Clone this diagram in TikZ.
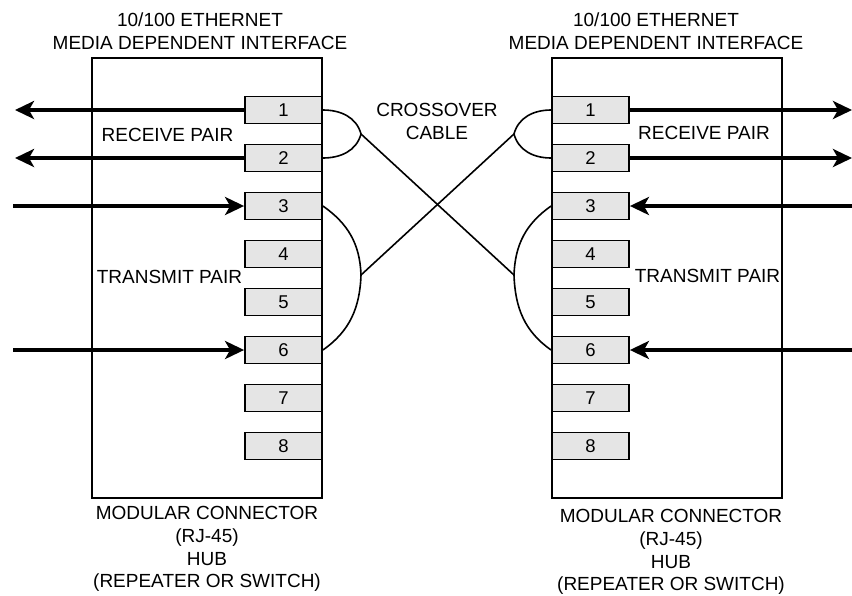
\documentclass[tikz,border=0pt]{standalone}
\usepackage{fontspec}
\setmainfont{Liberation Sans}
\usetikzlibrary{arrows.meta}
\tikzset{hubbox/.style={draw, line width=1.8pt, minimum width=230pt, minimum height=440pt, inner sep=0pt}}
\tikzset{pin/.style={draw, line width=1.8pt, fill=black!10, minimum width=77pt, minimum height=27pt, inner sep=0pt, font=\fontsize{18.5}{20}\selectfont}}
\tikzset{sig/.style={line width=3.5pt, -{Stealth[length=19pt, width=18pt, inset=5pt]}}}
\tikzset{cable/.style={line width=1.6pt}}
\tikzset{lbl/.style={align=center, inner sep=0pt, font=\fontsize{19}{22.7}\selectfont}}

\begin{document}
\begin{tikzpicture}[x=1pt, y=-1pt]
            \useasboundingbox (0, 0) rectangle (852, 595);
            \node[hubbox] (lhub) at (207, 278) {};
            \node[hubbox] (rhub) at (667, 278) {};
            \foreach \n in {1, ..., 8} {
                \node[pin] (L\n) at (283.5, 110 + 48*\n - 48) {\n};
                \node[pin] (R\n) at (590.5, 110 + 48*\n - 48) {\n};
            }
            \coordinate (lout1) at (15, 110);
            \coordinate (lout2) at (15, 158);
            \coordinate (lin3) at (13, 206);
            \coordinate (lin6) at (13, 350);
            \coordinate (rout1) at (852, 110);
            \coordinate (rout2) at (852, 158);
            \coordinate (rin3) at (852, 206);
            \coordinate (rin6) at (852, 350);
            \draw[sig] (L1.west) -- (lout1);
            \draw[sig] (L2.west) -- (lout2);
            \draw[sig] (lin3) -- (L3.west);
            \draw[sig] (lin6) -- (L6.west);
            \draw[sig] (R1.east) -- (rout1);
            \draw[sig] (R2.east) -- (rout2);
            \draw[sig] (rin3) -- (R3.east);
            \draw[sig] (rin6) -- (R6.east);
            \coordinate (lrx) at (361, 134);
            \coordinate (ltx) at (361, 275);
            \coordinate (rrx) at (514, 134);
            \coordinate (rtx) at (514, 275);
            \draw[cable] (L1.east) to[out=0, in=105] (lrx) to[out=-105, in=0] (L2.east);
            \draw[cable] (L3.east) to[out=-35, in=92] (ltx) to[out=-92, in=35] (L6.east);
            \draw[cable] (R1.west) to[out=180, in=75] (rrx) to[out=-75, in=180] (R2.west);
            \draw[cable] (R3.west) to[out=215, in=88] (rtx) to[out=-88, in=145] (R6.west);
            \draw[cable] (lrx) -- (rtx);
            \draw[cable] (ltx) -- (rrx);
            \node[lbl] (ltitle) at (200, 31.5) {10/100 ETHERNET\\MEDIA DEPENDENT INTERFACE};
            \node[lbl] (rtitle) at (656, 31.5) {10/100 ETHERNET\\MEDIA DEPENDENT INTERFACE};
            \node[lbl] (xover) at (437, 121.5) {CROSSOVER\\CABLE};
            \node[lbl] (lrecv) at (167.5, 135) {RECEIVE PAIR};
            \node[lbl] (ltrans) at (169.5, 277) {TRANSMIT PAIR};
            \node[lbl] (rrecv) at (704, 133) {RECEIVE PAIR};
            \node[lbl] (rtrans) at (707.5, 276) {TRANSMIT PAIR};
            \node[lbl] (lfoot) at (207, 549) {MODULAR CONNECTOR\\(RJ-45)\\HUB\\(REPEATER OR SWITCH)};
            \node[lbl] (rfoot) at (671, 552) {MODULAR CONNECTOR\\(RJ-45)\\HUB\\(REPEATER OR SWITCH)};
        \end{tikzpicture}
\end{document}
